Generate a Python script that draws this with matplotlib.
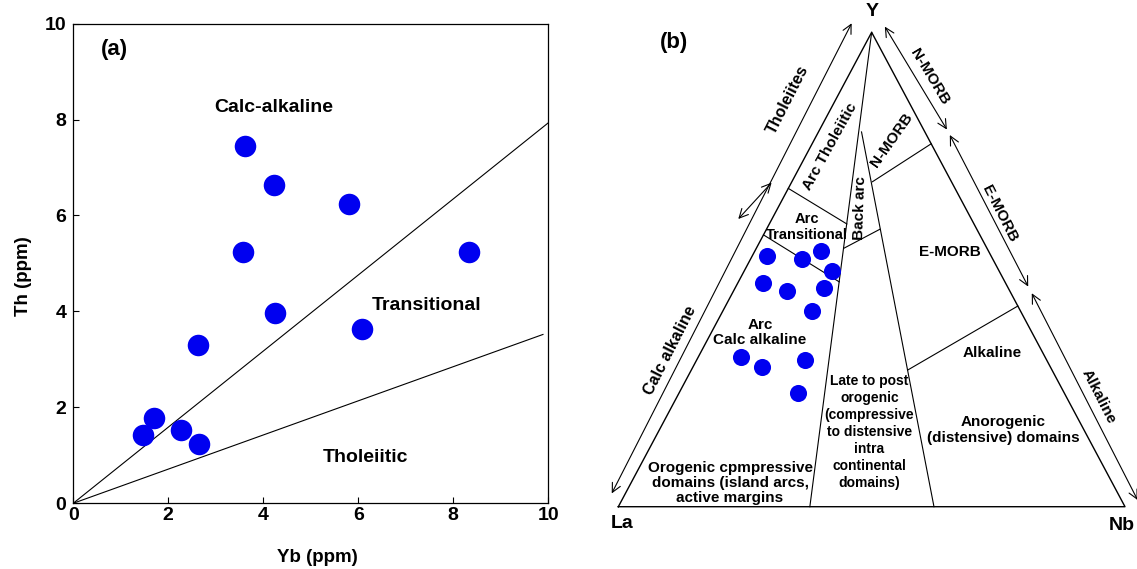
import matplotlib
matplotlib.use('Agg')
import matplotlib.pyplot as plt

plt.rcParams['font.family'] = ['Liberation Sans', 'DejaVu Sans']
plt.rcParams['font.weight'] = 'bold'

# ---- (a) Th vs Yb ----
yb = [3.62, 4.23, 5.81, 3.58, 8.33, 4.25, 6.07, 2.63, 1.70, 1.47, 2.26, 2.64]
th = [7.45, 6.64, 6.24, 5.23, 5.23, 3.96, 3.64, 3.30, 1.78, 1.43, 1.52, 1.23]
calc_line_yb = [0, 10]
calc_line_th = [0, 7.93]
thol_line_yb = [0, 9.89]
thol_line_th = [0, 3.52]
ticks_a = [0, 2, 4, 6, 8, 10]

# ---- (b) La-Y-Nb ternary, fractions ----
la_b = [0.442, 0.377, 0.331, 0.330, 0.478, 0.439, 0.364, 0.411, 0.599, 0.568, 0.477, 0.525]
y_b = [0.529, 0.522, 0.539, 0.497, 0.472, 0.455, 0.462, 0.413, 0.316, 0.295, 0.309, 0.240]
nb_b = [0.030, 0.101, 0.130, 0.173, 0.050, 0.106, 0.174, 0.175, 0.085, 0.137, 0.214, 0.235]

outline = [(1, 0, 0), (0, 1, 0), (0, 0, 1), (1, 0, 0)]
# field boundaries, (La, Y, Nb) at both ends
field_lines = [
    [(0, 1, 0), (0.622, 0, 0.378)],
    [(0.125, 0.790, 0.085), (0.377, 0, 0.623)],
    [(0.329, 0.671, 0), (0.251, 0.596, 0.153)],
    [(0.427, 0.573, 0), (0.327, 0.474, 0.199)],
    [(0.282, 0.545, 0.173), (0.191, 0.585, 0.224)],
    [(0.156, 0.685, 0.159), (0, 0.765, 0.235)],
    [(0.285, 0.288, 0.427), (0, 0.423, 0.577)],
]
# range arrows outside the triangle
range_arrows = [
    [(0.999, 0.028, -0.027), (0.030, 1.019, -0.049)],
    [(0.460, 0.6065, -0.0665), (0.356, 0.683, -0.039)],
    [(-0.032, 1.012, 0.020), (-0.046, 0.795, 0.251)],
    [(-0.046, 0.7835, 0.2625), (-0.041, 0.464, 0.577)],
    [(-0.041, 0.450, 0.591), (-0.032, 0.014, 1.018)],
]


def tern(la, y, nb):
    s = la + y + nb
    y, nb = y / s, nb / s
    return nb + y / 2, y


fig = plt.figure(figsize=(11.37, 5.69), dpi=100)

# panel (a)
ax1 = fig.add_axes([73.2 / 1137, 1 - 503.3 / 569, (548.2 - 73.2) / 1137, (503.3 - 23.6) / 569])
ax1.plot(calc_line_yb, calc_line_th, color='black', lw=0.8)
ax1.plot(thol_line_yb, thol_line_th, color='black', lw=0.8)
ax1.plot(yb, th, 'o', color='#0000f0', ms=15.5, mec='none')
ax1.set_xlim(0, 10)
ax1.set_ylim(0, 10)
ax1.set_xticks(ticks_a)
ax1.set_yticks(ticks_a)
ax1.tick_params(direction='in', length=4, width=0.8, labelsize=14)
ax1.tick_params(axis='x', pad=3)
ax1.tick_params(axis='y', pad=5)
for s in ax1.spines.values():
    s.set_linewidth(0.9)
ax1.set_xlabel('Yb (ppm)', fontsize=13.5, fontweight='bold')
ax1.xaxis.label.set_va('center')
ax1.xaxis.set_label_coords(0.515, -0.112)
ax1.set_ylabel('Th (ppm)', fontsize=13.5, fontweight='bold')
ax1.yaxis.label.set_va('center')
ax1.yaxis.set_label_coords(-0.105, 0.474)
ax1.text(0.86, 9.47, '(a)', fontsize=16, ha='center', va='center')
ax1.text(4.23, 8.25, 'Calc-alkaline', fontsize=14, ha='center', va='center')
ax1.text(7.44, 4.12, 'Transitional', fontsize=14, ha='center', va='center')
ax1.text(6.15, 0.96, 'Tholeiitic', fontsize=14, ha='center', va='center')

# panel (b)
ax2 = fig.add_axes([590 / 1137, 0, 547 / 1137, 1])
ax2.set_xlim(-0.0559, 1.0237)
ax2.set_ylim(-0.1313, 1.0681)
ax2.axis('off')

ox, oy = zip(*[tern(*p) for p in outline])
ax2.plot(ox, oy, color='black', lw=1.0)
for a, b in field_lines:
    xa, ya = tern(*a)
    xb, yb2 = tern(*b)
    ax2.plot([xa, xb], [ya, yb2], color='black', lw=0.8)
for a, b in range_arrows:
    ax2.annotate('', xy=tern(*b), xytext=tern(*a), annotation_clip=False,
                 arrowprops=dict(arrowstyle='<->', color='black', lw=0.8,
                                 shrinkA=0, shrinkB=0, mutation_scale=16))

px, py = zip(*[tern(l, y, n) for l, y, n in zip(la_b, y_b, nb_b)])
ax2.plot(px, py, 'o', color='#0000f0', ms=12.3, mec='none')

ax2.text(0.109, 0.978, '(b)', fontsize=16, ha='center', va='center')
ax2.text(0.5, 1.043, 'Y', fontsize=14, ha='center', va='center')
ax2.text(0.007, -0.036, 'La', fontsize=14, ha='center', va='center')
ax2.text(0.9935, -0.040, 'Nb', fontsize=14, ha='center', va='center')
ax2.text(0.3355, 0.857, 'Tholeiites', fontsize=11.5, rotation=63, ha='center', va='center')
ax2.text(0.102, 0.330, 'Calc alkaline', fontsize=11.5, rotation=63, ha='center', va='center')
ax2.text(0.418, 0.759, 'Arc Tholeiitic', fontsize=11, rotation=61, ha='center', va='center')
ax2.text(0.477, 0.629, 'Back arc', fontsize=11, rotation=88, ha='center', va='center')
ax2.text(0.5396, 0.773, 'N-MORB', fontsize=11, rotation=55, ha='center', va='center')
ax2.text(0.615, 0.906, 'N-MORB', fontsize=11, rotation=-59, ha='center', va='center')
ax2.text(0.753, 0.618, 'E-MORB', fontsize=11, rotation=-63, ha='center', va='center')
ax2.text(0.947, 0.232, 'Alkaline', fontsize=11, rotation=-63, ha='center', va='center')
ax2.text(0.6546, 0.5375, 'E-MORB', fontsize=11, ha='center', va='center')
ax2.text(0.3714, 0.5896, 'Arc\nTransitional', fontsize=10.5, ha='center', va='center',
         linespacing=1.1)
ax2.text(0.2797, 0.368, 'Arc\nCalc alkaline', fontsize=11, ha='center', va='center',
         linespacing=1.1)
ax2.text(0.7375, 0.325, 'Alkaline', fontsize=11, ha='center', va='center')
ax2.text(0.759, 0.162, 'Anorogenic\n(distensive) domains', fontsize=11, ha='center',
         va='center', linespacing=1.15)
ax2.text(0.4958, 0.1575, 'Late to post\norogenic\n(compressive\nto distensive\nintra\n'
         'continental\ndomains)', fontsize=10, ha='center', va='center', linespacing=1.27)
ax2.text(0.2205, 0.05, 'Orogenic cpmpressive\ndomains (island arcs,\nactive margins',
         fontsize=11, ha='center', va='center', linespacing=1.07)

fig.savefig('out.png', dpi=100)
